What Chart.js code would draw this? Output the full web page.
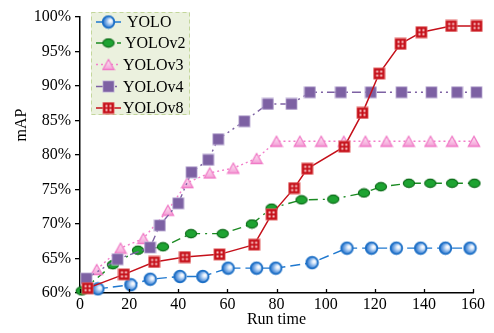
<!DOCTYPE html>
<html>
<head>
<meta charset="utf-8">
<script src="https://cdn.jsdelivr.net/npm/chart.js@4/dist/chart.umd.min.js"></script>
<style>
  html, body { margin: 0; padding: 0; background: #ffffff; }
  #wrap { width: 494px; height: 333px; position: relative; }
</style>
</head>
<body>
<div id="wrap"><canvas id="c" width="494" height="333"></canvas></div>
<script>
// Run time (x) and mAP in percent (y) for each detector
const yoloT   = [7.3, 20.7, 28.6, 40.7, 50.0, 60.3, 71.9, 79.7, 94.5, 108.7, 118.7, 128.8, 138.7, 148.8, 158.8];
const yoloV   = [60.6, 61.2, 62.0, 62.4, 62.4, 63.6, 63.6, 63.6, 64.4, 66.5, 66.5, 66.5, 66.5, 66.5, 66.5];

const yolo2T  = [0.7, 13.4, 23.6, 33.8, 45.2, 58.1, 70.0, 78.0, 90.2, 103.1, 115.6, 122.5, 133.9, 142.6, 151.5, 160.6];
const yolo2V  = [60.3, 64.1, 66.2, 66.7, 68.6, 68.6, 70.0, 72.3, 73.5, 73.6, 74.5, 75.4, 75.9, 75.9, 75.9, 75.9];

const yolo3T  = [6.8, 16.5, 25.8, 35.8, 43.7, 52.8, 62.4, 71.9, 80.0, 89.5, 98.2, 107.4, 116.2, 124.8, 133.8, 142.7, 151.5, 160.4];
const yolo3V  = [63.4, 66.5, 67.9, 72.0, 76.0, 77.4, 78.1, 79.5, 82.0, 82.0, 82.0, 82.0, 82.0, 82.0, 82.0, 82.0, 82.0, 82.0];

const yolo4T  = [2.6, 15.3, 28.5, 32.5, 40.0, 45.4, 52.2, 56.3, 66.9, 76.5, 86.1, 93.6, 106.2, 118.4, 130.9, 143.1, 153.5, 161.4];
const yolo4V  = [62.1, 64.9, 66.6, 69.8, 73.0, 77.5, 79.3, 82.3, 84.9, 87.4, 87.4, 89.1, 89.1, 89.1, 89.1, 89.1, 89.1, 89.1];

const yolo8T  = [3.1, 17.9, 30.2, 42.7, 56.8, 70.9, 78.0, 87.2, 92.5, 107.6, 115.0, 121.8, 130.5, 139.0, 151.1, 161.5];
const yolo8V  = [60.7, 62.7, 64.5, 65.2, 65.6, 67.0, 71.4, 75.2, 78.0, 81.2, 86.1, 91.8, 96.1, 97.8, 98.7, 98.7];

const seriesNames = ['YOLO', 'YOLOv2', 'YOLOv3', 'YOLOv4', 'YOLOv8'];
const xTicks = [0, 20, 40, 60, 80, 100, 120, 140, 160];
const yTicks = [60, 65, 70, 75, 80, 85, 90, 95, 100];

const FONT = 'Liberation Serif, "Times New Roman", serif';

// --- marker sprites -------------------------------------------------------
function sprite(w, h, paint) {
  const cv = document.createElement('canvas');
  cv.width = w; cv.height = h;
  paint(cv.getContext('2d'), w, h);
  return cv;
}

const circleMark = sprite(15, 15, (g) => {
  const gr = g.createRadialGradient(9.8, 6.2, 0.3, 8.5, 7.5, 6.4);
  gr.addColorStop(0, '#ffffff');
  gr.addColorStop(0.22, '#e2edfb');
  gr.addColorStop(0.6, '#7eafe8');
  gr.addColorStop(1, '#2a72c8');
  g.beginPath(); g.arc(7.5, 7.5, 5.8, 0, Math.PI * 2);
  g.fillStyle = gr; g.fill();
  g.lineWidth = 1.8; g.strokeStyle = '#1c6fc6'; g.stroke();
});

const ellipseMark = sprite(14, 11, (g) => {
  g.beginPath(); g.ellipse(7, 5.5, 5.6, 4.1, 0, 0, Math.PI * 2);
  g.fillStyle = '#1ea332'; g.fill();
  g.lineWidth = 1.1; g.strokeStyle = '#0b6a18'; g.stroke();
});

const triMark = sprite(14, 13, (g) => {
  const gr = g.createLinearGradient(0, 2, 0, 12);
  gr.addColorStop(0, '#fde6f4');
  gr.addColorStop(1, '#f39bd5');
  g.beginPath(); g.moveTo(7, 1.5); g.lineTo(12.6, 11.5); g.lineTo(1.4, 11.5); g.closePath();
  g.fillStyle = gr; g.fill();
  g.lineWidth = 1.3; g.strokeStyle = '#f07ac6'; g.stroke();
});

const squareMark = sprite(13, 13, (g) => {
  g.fillStyle = '#c3b6da'; g.fillRect(0.5, 0.5, 12, 12);
  g.fillStyle = '#7d61a3'; g.fillRect(1.3, 1.3, 10.4, 10.4);
});

const redMark = sprite(13, 13, (g) => {
  g.fillStyle = '#e46a6a'; g.fillRect(0.5, 0.5, 12, 12);
  g.fillStyle = '#c5101a'; g.fillRect(1.3, 1.3, 10.4, 10.4);
  g.fillStyle = '#ffd8d8';
  [[3.5, 3.5], [7.5, 3.5], [3.5, 7.5], [7.5, 7.5]].forEach(([x, y]) => g.fillRect(x, y, 2, 2));
});

// --- datasets ---------------------------------------------------------------
function pts(t, v) { return t.map((x, i) => ({ x: x, y: v[i] })); }

const styles = [
  { color: '#1f78cf', dash: [10, 5], width: 1.4, mark: circleMark, order: 5 },
  { color: '#1b8a22', dash: [9, 5, 2, 5], width: 1.4, mark: ellipseMark, order: 4 },
  { color: '#f27fca', dash: [2, 3], width: 1.4, mark: triMark, order: 3 },
  { color: '#7d61a3', dash: [9, 4, 2, 4, 2, 4], width: 1.4, mark: squareMark, order: 2 },
  { color: '#c5101a', dash: [], width: 1.5, mark: redMark, order: 1 }
];
const seriesData = [
  pts(yoloT, yoloV), pts(yolo2T, yolo2V), pts(yolo3T, yolo3V), pts(yolo4T, yolo4V), pts(yolo8T, yolo8V)
];

const datasets = seriesNames.map((name, i) => ({
  label: name,
  data: seriesData[i],
  borderColor: styles[i].color,
  borderWidth: styles[i].width,
  borderDash: styles[i].dash,
  pointStyle: styles[i].mark,
  pointRadius: 6,
  pointHoverRadius: 6,
  fill: false,
  tension: 0,
  clip: false,
  order: styles[i].order
}));

// --- overlay: inward x ticks, rotated y title, framed legend ----------------
const decorations = {
  id: 'decorations',
  afterDraw(chart) {
    const ctx = chart.ctx;
    const xs = chart.scales.x;
    const bottom = chart.chartArea.bottom;

    ctx.save();
    ctx.strokeStyle = '#000'; ctx.lineWidth = 1.3;
    xTicks.forEach(t => {
      const px = Math.round(xs.getPixelForValue(t)) + 0.5;
      ctx.beginPath(); ctx.moveTo(px, bottom); ctx.lineTo(px, bottom - 4); ctx.stroke();
    });

    // y axis title
    ctx.fillStyle = '#000';
    ctx.font = '16px ' + FONT;
    ctx.textAlign = 'center'; ctx.textBaseline = 'middle';
    ctx.translate(22, 125);
    ctx.rotate(-Math.PI / 2);
    ctx.fillText('mAP', 0, 0);
    ctx.restore();

    // legend box
    ctx.save();
    const bx = 91, by = 12, bw = 99, bh = 103;
    ctx.fillStyle = '#ebf1de';
    ctx.fillRect(bx, by, bw, bh);
    ctx.setLineDash([4, 3]);
    ctx.strokeStyle = '#c3d69b'; ctx.lineWidth = 1;
    ctx.strokeRect(bx + 0.5, by + 0.5, bw - 1, bh - 1);

    const rows = [22, 43, 64.5, 86.5, 108];
    const textX = [127, 125, 123, 123, 123];
    ctx.font = '16px ' + FONT;
    ctx.textAlign = 'left'; ctx.textBaseline = 'middle';
    seriesNames.forEach((name, i) => {
      const y = rows[i];
      const st = styles[i];
      ctx.setLineDash(st.dash);
      ctx.strokeStyle = st.color; ctx.lineWidth = st.width;
      ctx.beginPath(); ctx.moveTo(96, y); ctx.lineTo(121, y); ctx.stroke();
      ctx.setLineDash([]);
      const m = st.mark;
      ctx.drawImage(m, 108.5 - m.width / 2, y - m.height / 2);
      ctx.fillStyle = '#000';
      ctx.fillText(name, textX[i], y + 1);
    });
    ctx.restore();
  }
};

new Chart(document.getElementById('c'), {
  type: 'line',
  data: { datasets: datasets },
  options: {
    responsive: false,
    animation: false,
    devicePixelRatio: 1,
    layout: { padding: { top: 17, right: 21, left: 0, bottom: 0 } },
    plugins: { legend: { display: false }, tooltip: { enabled: false } },
    scales: {
      x: {
        type: 'linear', min: 0, max: 160,
        afterBuildTicks(s) { s.ticks = xTicks.map(v => ({ value: v })); },
        afterFit(s) { s.height = 40; },
        ticks: { color: '#000', font: { family: FONT, size: 16 }, padding: -6, maxRotation: 0 },
        grid: { display: false },
        border: { display: true, color: '#000', width: 1.5 },
        title: { display: true, text: 'Run time', color: '#000', font: { family: FONT, size: 16 }, padding: { top: 0, bottom: 4 } }
      },
      y: {
        type: 'linear', min: 60, max: 100,
        afterBuildTicks(s) { s.ticks = yTicks.map(v => ({ value: v })); },
        afterFit(s) { s.width = 80; },
        ticks: { color: '#000', font: { family: FONT, size: 16 }, padding: 4, callback: v => v + '%' },
        grid: { drawOnChartArea: false, drawTicks: true, tickLength: 5, color: '#000', lineWidth: 1.3 },
        border: { display: true, color: '#000', width: 1.5 }
      }
    }
  },
  plugins: [decorations]
});
</script>
</body>
</html>
